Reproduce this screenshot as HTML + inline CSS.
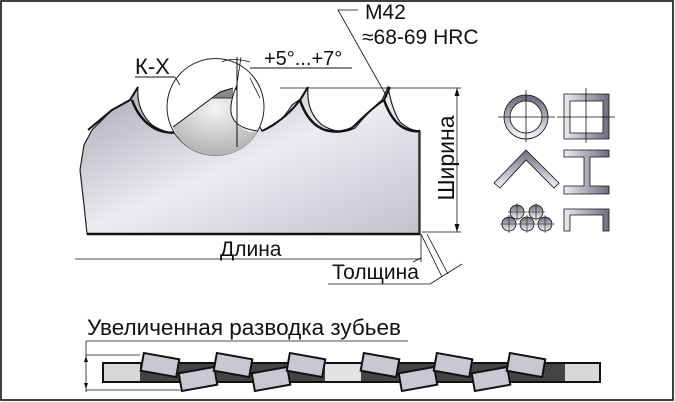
<!DOCTYPE html>
<html><head><meta charset="utf-8"><style>
html,body{margin:0;padding:0;background:#fff;}
svg{display:block;}
text{font-family:"Liberation Sans",sans-serif;fill:#111;}
</style></head><body>
<svg width="675" height="402" viewBox="0 0 675 402" xmlns="http://www.w3.org/2000/svg">
<defs>
<linearGradient id="bl" x1="0" y1="0" x2="1" y2="1">
<stop offset="0" stop-color="#a9a8b6"/><stop offset="0.5" stop-color="#ebebf0"/><stop offset="1" stop-color="#c2c1cf"/>
</linearGradient>
<radialGradient id="mg" cx="0.5" cy="0.3" r="0.8">
<stop offset="0" stop-color="#f4f4f4"/><stop offset="1" stop-color="#a8a8a8"/>
</radialGradient>
<linearGradient id="ic" x1="0" y1="0" x2="0" y2="1">
<stop offset="0" stop-color="#6e6d80"/><stop offset="1" stop-color="#f2f2f6"/>
</linearGradient>
<linearGradient id="ich" x1="0" y1="0" x2="1" y2="0">
<stop offset="0" stop-color="#ececf2"/><stop offset="1" stop-color="#6e6d80"/>
</linearGradient>
</defs>
<rect x="1" y="1" width="672" height="399" fill="#fff" stroke="#111" stroke-width="1.6"/>

<!-- blade -->
<path d="M87,234 L84,205 L80,170 L84,145 L92,130 L112,110 L130,100 L138,87 Q136,110 152,125 Q168,135 178,132 L192,128 Q215,100 236,95 Q258,122 262,131 Q280,125 292,105 L302,98 L308,87 Q306,112 322,125 Q340,136 355,128 Q370,110 382,100 L388,87 Q392,110 400,122 Q410,131 420,131 L420,234 Z" fill="url(#bl)" stroke="#222" stroke-width="1.2"/>
<path d="M132,100 Q140,122 158,130 Q170,134 176,132" fill="none" stroke="#111" stroke-width="2.5"/>
<path d="M300,100 Q308,124 325,130 Q340,134 352,128" fill="none" stroke="#111" stroke-width="2.5"/>
<path d="M384,100 Q392,122 404,128 Q412,132 420,131" fill="none" stroke="#111" stroke-width="2.5"/>
<path d="M88,130 L112,110 L130,100 L138,87" fill="none" stroke="#111" stroke-width="2"/>
<path d="M262,131 Q285,120 300,100 L308,87" fill="none" stroke="#111" stroke-width="2"/>
<path d="M352,128 Q372,108 384,100 L390,87" fill="none" stroke="#111" stroke-width="2"/>
<line x1="87" y1="234" x2="420" y2="234" stroke="#111" stroke-width="2.5"/>
<line x1="419" y1="131" x2="419" y2="234" stroke="#333" stroke-width="1.5"/>

<!-- magnifier -->
<circle cx="215.5" cy="107" r="48.5" fill="#fff" stroke="#222" stroke-width="1"/>
<path d="M173,127 L212,98 L220,92 L233,88 Q230,100 231,110 Q232,125 250,132 L258,131 A48.5,48.5 0 0 1 180,140 Z" fill="url(#mg)" stroke="none"/>
<path d="M212,98 L220,92 L233,88 L233,98 L212,98 Z" fill="#8a8a8a"/>
<path d="M173,127 L212,98 L220,92 L233,88" fill="none" stroke="#111" stroke-width="1"/>
<path d="M237,85 Q230,100 231,112 Q233,128 258,131" fill="none" stroke="#111" stroke-width="1"/>
<line x1="212" y1="98" x2="233" y2="98" stroke="#111" stroke-width="0.8"/>
<line x1="237" y1="57" x2="237" y2="147" stroke="#111" stroke-width="1"/>
<line x1="241" y1="57" x2="236" y2="90" stroke="#111" stroke-width="0.8"/>
<path d="M222,62 Q232,57 250,62" fill="none" stroke="#111" stroke-width="0.8"/>
<line x1="250" y1="68" x2="352" y2="68" stroke="#111" stroke-width="1"/>
<line x1="250" y1="78" x2="260" y2="98" stroke="#111" stroke-width="0.8"/>
<text x="264" y="65" font-size="20">+5°...+7°</text>
<text x="135" y="74" font-size="22">К-Х</text>
<line x1="135" y1="77" x2="175" y2="77" stroke="#111" stroke-width="1"/>
<line x1="175" y1="77" x2="180" y2="85" stroke="#111" stroke-width="0.8"/>

<!-- M42 -->
<text x="365" y="19" font-size="21">M42</text>
<text x="362" y="44" font-size="21">≈68-69 HRC</text>
<polyline points="358,10 338,10 387,97" fill="none" stroke="#111" stroke-width="0.8"/>

<!-- Ширина -->
<line x1="280" y1="88" x2="461" y2="88" stroke="#111" stroke-width="0.8"/>
<line x1="422" y1="232" x2="461" y2="232" stroke="#111" stroke-width="0.8"/>
<line x1="457" y1="88" x2="457" y2="232" stroke="#111" stroke-width="0.8"/>
<path d="M457,88 l-2.5,8 h5 Z M457,232 l-2.5,-8 h5 Z" fill="#111"/>
<text transform="translate(454,158) rotate(-90)" text-anchor="middle" font-size="23">Ширина</text>

<!-- Длина -->
<line x1="75" y1="259" x2="421" y2="259" stroke="#111" stroke-width="0.8"/>
<line x1="421" y1="234" x2="421" y2="262" stroke="#111" stroke-width="0.8"/>
<text x="220" y="256" font-size="21">Длина</text>

<!-- Толщина -->
<text x="332" y="279" font-size="21">Толщина</text>
<line x1="328" y1="284" x2="430" y2="284" stroke="#111" stroke-width="0.8"/>
<line x1="421" y1="234" x2="442" y2="277" stroke="#111" stroke-width="0.8"/>
<line x1="427" y1="234" x2="448" y2="274" stroke="#111" stroke-width="0.8"/>
<line x1="430" y1="284" x2="462" y2="264" stroke="#111" stroke-width="0.8"/>
<line x1="421" y1="258" x2="413" y2="262" stroke="#111" stroke-width="0.8"/>

<!-- icons -->
<circle cx="526" cy="117" r="19" fill="none" stroke="url(#ic)" stroke-width="6"/>
<circle cx="526" cy="117" r="22" fill="none" stroke="#111" stroke-width="0.8"/>
<circle cx="526" cy="117" r="16" fill="none" stroke="#111" stroke-width="0.8"/>
<line x1="498" y1="117" x2="555" y2="117" stroke="#111" stroke-width="0.8"/>
<line x1="526" y1="90" x2="526" y2="142" stroke="#111" stroke-width="0.8"/>
<path d="M564,94 H609 V139 H564 Z M570,101 V133 H603 V101 Z" fill="url(#ich)" fill-rule="evenodd" stroke="#111" stroke-width="0.8"/>
<line x1="557" y1="117" x2="615" y2="117" stroke="#111" stroke-width="0.8"/>
<line x1="586" y1="88" x2="586" y2="143" stroke="#111" stroke-width="0.8"/>
<path d="M526,150 L559,183 L554,188 L526,160 L500,188 L494,183 Z" fill="url(#ic)" stroke="#111" stroke-width="0.8"/>
<path d="M564,150 H609 V157 H590 V186 H609 V194 H564 V186 H584 V157 H564 Z" fill="url(#ich)" stroke="#111" stroke-width="0.8"/>
<path d="M564,231 V209 H609 V231 H603 V215 H570 V231 Z" fill="url(#ich)" stroke="#111" stroke-width="0.8"/>
<g fill="url(#ic)" stroke="#111" stroke-width="0.8">
<circle cx="517" cy="212" r="7"/><circle cx="536" cy="212" r="7"/>
<circle cx="509" cy="224" r="7"/><circle cx="527" cy="224" r="7"/><circle cx="545" cy="224" r="7"/>
</g>
<g stroke="#111" stroke-width="0.6">
<line x1="500" y1="224" x2="555" y2="224"/><line x1="508" y1="212" x2="545" y2="212"/>
<line x1="517" y1="203" x2="517" y2="221"/><line x1="536" y1="203" x2="536" y2="221"/>
<line x1="509" y1="215" x2="509" y2="233"/><line x1="527" y1="215" x2="527" y2="233"/><line x1="545" y1="215" x2="545" y2="233"/>
</g>

<!-- set -->
<text x="87" y="335" font-size="22" textLength="314" lengthAdjust="spacingAndGlyphs">Увеличенная разводка зубьев</text>
<line x1="86" y1="341" x2="408" y2="341" stroke="#111" stroke-width="0.8"/>
<line x1="86" y1="341" x2="86" y2="392" stroke="#111" stroke-width="0.8"/>
<line x1="86" y1="355" x2="140" y2="355" stroke="#111" stroke-width="0.8"/>
<line x1="86" y1="390" x2="180" y2="390" stroke="#111" stroke-width="0.8"/>
<path d="M86,356 l-2,6 h4 Z M86,389 l-2,-6 h4 Z" fill="#111"/>
<rect x="103" y="363" width="497" height="19" fill="#444" stroke="#111" stroke-width="2"/>
<rect x="104" y="364" width="36" height="17" fill="#d8d8d8"/>
<rect x="325" y="364" width="36" height="17" fill="#e2e2e2"/>
<rect x="565" y="364" width="34" height="17" fill="#d8d8d8"/>
<g fill="#c8c8d4" stroke="#111" stroke-width="2">
<rect x="142" y="356" width="36" height="18" transform="rotate(10 160 365)"/>
<rect x="180" y="370" width="36" height="18" transform="rotate(-10 198 379)"/>
<rect x="215" y="356" width="36" height="18" transform="rotate(10 233 365)"/>
<rect x="253" y="370" width="36" height="18" transform="rotate(-10 271 379)"/>
<rect x="288" y="356" width="36" height="18" transform="rotate(10 306 365)"/>
<rect x="362" y="356" width="36" height="18" transform="rotate(10 380 365)"/>
<rect x="400" y="370" width="36" height="18" transform="rotate(-10 418 379)"/>
<rect x="435" y="356" width="36" height="18" transform="rotate(10 453 365)"/>
<rect x="473" y="370" width="36" height="18" transform="rotate(-10 491 379)"/>
<rect x="508" y="356" width="36" height="18" transform="rotate(10 526 365)"/>
</g>
</svg>
</body></html>
